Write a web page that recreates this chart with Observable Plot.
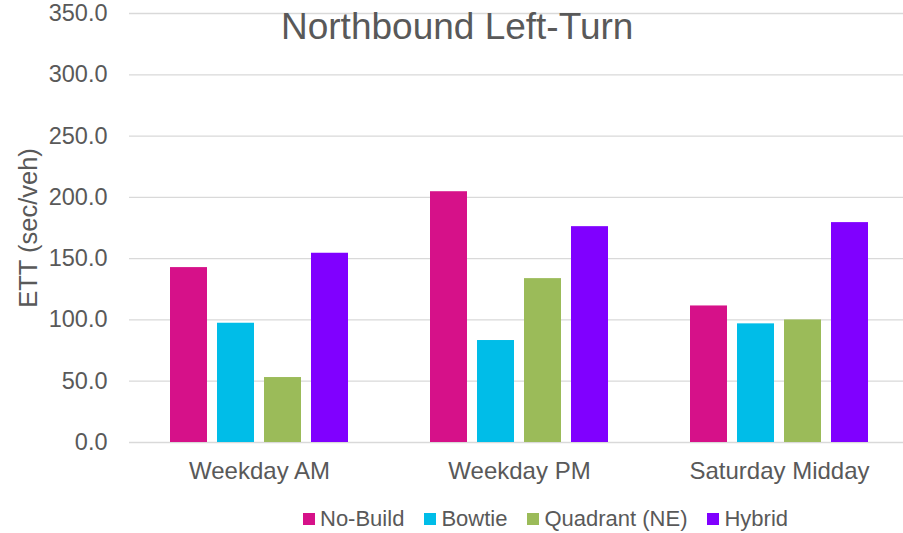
<!DOCTYPE html>
<html>
<head>
<meta charset="utf-8">
<script src="https://cdn.jsdelivr.net/npm/d3@7"></script>
<script src="https://cdn.jsdelivr.net/npm/@observablehq/plot@0.6"></script>
<style>
  html, body { margin: 0; padding: 0; background: #fff; }
  #wrap { position: relative; width: 903px; height: 533px; overflow: hidden; font-family: "Liberation Sans", Arial, sans-serif; color: #595959; }
  #title { position: absolute; left: 281px; top: 8px; font-size: 37px; line-height: 37px; white-space: nowrap; }
  #ylabel { position: absolute; left: 28px; top: 228px; font-size: 25.5px; line-height: 25px; white-space: nowrap; transform: translate(-50%, -50%) rotate(-90deg); }
  #legend { position: absolute; left: 303px; top: 505px; display: flex; align-items: center; gap: 20px; font-size: 22px; line-height: 28px; }
  .item { display: flex; align-items: center; gap: 5px; white-space: nowrap; }
  .sw { width: 12px; height: 12px; display: inline-block; }
  svg { position: absolute; left: 0; top: 0; }
</style>
</head>
<body>
<div id="wrap"></div>
<script>
const categories = ["Weekday AM", "Weekday PM", "Saturday Midday"];
const series = ["No-Build", "Bowtie", "Quadrant (NE)", "Hybrid"];
const noBuild = [142.7, 204.6, 111.4];
const bowtie = [97.3, 83.2, 96.8];
const quadrant = [53.0, 133.7, 100.0];
const hybrid = [154.4, 176.1, 179.4];
const colors = ["#D61189", "#00BDE8", "#9BBB59", "#8000FF"];
const yTicks = [0, 50, 100, 150, 200, 250, 300, 350];
const titleText = "Northbound Left-Turn";
const yLabelText = "ETT (sec/veh)";

const valuesBySeries = [noBuild, bowtie, quadrant, hybrid];
const data = [];
categories.forEach((c, i) => {
  series.forEach((s, j) => data.push({cat: c, series: s, value: valuesBySeries[j][i]}));
});

const chart = Plot.plot({
  width: 903,
  height: 500,
  marginLeft: 130,
  marginRight: 0,
  marginTop: 13,
  marginBottom: 58,
  style: {fontFamily: "'Liberation Sans', Arial, sans-serif", color: "#595959", background: "transparent", overflow: "visible"},
  fx: {domain: categories, range: [129.3, 909.3], padding: 0, label: null, axis: null},
  x: {domain: series, paddingInner: 0.2128, paddingOuter: 0.872, axis: null},
  y: {domain: [0, 350], axis: null},
  color: {domain: series, range: colors},
  marks: [
    Plot.gridY(yTicks, {stroke: "#d9d9d9", strokeOpacity: 1, strokeWidth: 1.3}),
    Plot.barY(data, {fx: "cat", x: "series", y: "value", fill: "series"}),
    Plot.axisY({ticks: yTicks, tickFormat: d => d.toFixed(1), tickSize: 0, tickPadding: 22, fontSize: 23.5, label: null}),
    Plot.axisFx({anchor: "bottom", tickSize: 0, tickPadding: 19, fontSize: 24, label: null})
  ]
});

const wrap = document.getElementById("wrap");
wrap.appendChild(chart);

const title = document.createElement("div");
title.id = "title";
title.textContent = titleText;
wrap.appendChild(title);

const yl = document.createElement("div");
yl.id = "ylabel";
yl.textContent = yLabelText;
wrap.appendChild(yl);

const legend = document.createElement("div");
legend.id = "legend";
series.forEach((s, i) => {
  const it = document.createElement("div");
  it.className = "item";
  const sw = document.createElement("span");
  sw.className = "sw";
  sw.style.background = colors[i];
  const tx = document.createElement("span");
  tx.textContent = s;
  it.appendChild(sw);
  it.appendChild(tx);
  legend.appendChild(it);
});
wrap.appendChild(legend);
</script>
</body>
</html>
